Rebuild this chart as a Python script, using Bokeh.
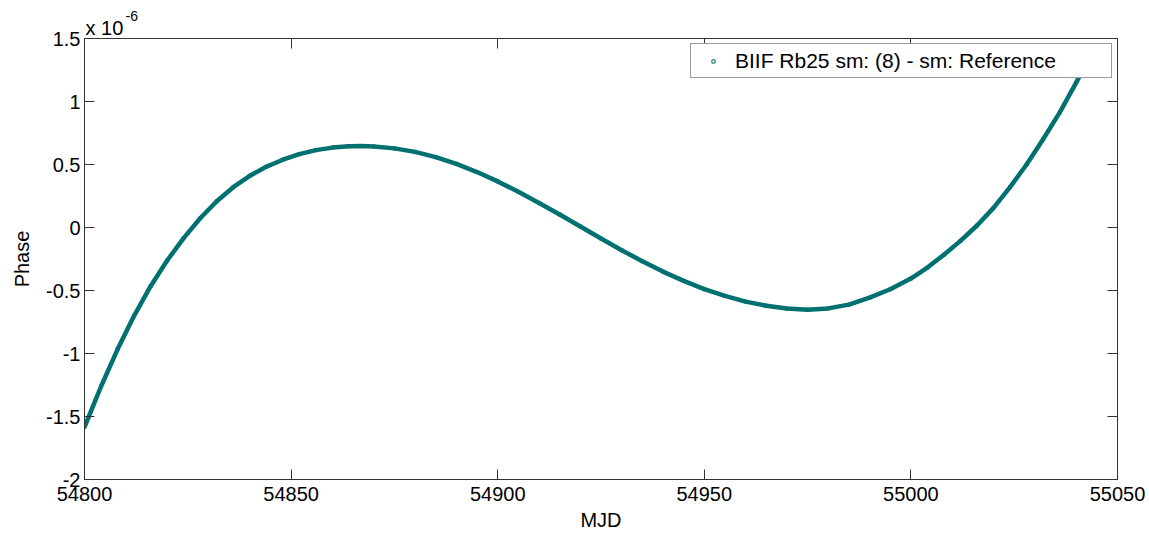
from bokeh.plotting import figure
from bokeh.models import (FixedTicker, CustomJSTickFormatter, LinearAxis, Range1d,
                          Legend, LegendItem, Title)
from bokeh.embed import file_html
from bokeh.resources import INLINE

# ---- data (phase in units of 1e-6) ----
mjd = [54800, 54804, 54808, 54812, 54816, 54820, 54824, 54828, 54832, 54836,
       54840, 54844, 54848, 54852, 54856, 54860, 54864, 54867, 54870, 54875,
       54880, 54885, 54890, 54895, 54900, 54905, 54910, 54915, 54920, 54925,
       54930, 54935, 54940, 54945, 54950, 54955, 54960, 54965, 54970, 54975,
       54980, 54985, 54990, 54995, 55000, 55004, 55008, 55012, 55016, 55020,
       55024, 55028, 55032, 55036, 55040, 55044]
phase_e6 = [-1.584, -1.262, -0.967, -0.701, -0.466, -0.262, -0.084, 0.073, 0.208, 0.320,
            0.410, 0.482, 0.538, 0.582, 0.614, 0.634, 0.644, 0.646, 0.643, 0.628,
            0.600, 0.558, 0.505, 0.440, 0.366, 0.283, 0.195, 0.103, 0.008, -0.087,
            -0.180, -0.268, -0.350, -0.424, -0.489, -0.543, -0.588, -0.621, -0.643, -0.652,
            -0.642, -0.612, -0.557, -0.490, -0.405, -0.318, -0.216, -0.106, 0.016, 0.156,
            0.320, 0.500, 0.700, 0.912, 1.150, 1.400]
x_ticks = [54800, 54850, 54900, 54950, 55000, 55050]
y_ticks = [-2, -1.5, -1, -0.5, 0, 0.5, 1, 1.5]
legend_label = "BIIF Rb25 sm: (8) - sm: Reference"
x_label = "MJD"
y_label = "Phase"
multiplier_base = "x 10"
multiplier_exp = "-6"

FONT = "Liberation Sans"
AX = "#333333"
TEAL = "#007070"

p = figure(width=1149, height=534, output_backend="svg", toolbar_location=None,
           x_range=Range1d(54800, 55050), y_range=Range1d(-2, 1.5),
           min_border_left=84, min_border_right=32, min_border_top=38,
           min_border_bottom=55)
p.title.visible = False
p.grid.visible = False
p.outline_line_color = AX
p.outline_line_width = 1
p.background_fill_color = "white"
p.border_fill_color = "white"

pts_r = p.scatter(mjd, phase_e6, marker="square", size=3, fill_color="white",
                  line_color=TEAL, line_width=1)
line_r = p.line(mjd, phase_e6, line_color=TEAL, line_width=4.5)

fmt = CustomJSTickFormatter(code="return String(tick);")

def style(ax, labels=True):
    ax.axis_line_color = AX
    ax.major_tick_line_color = AX
    ax.major_tick_in = 10
    ax.major_tick_out = 0
    ax.minor_tick_line_color = None
    ax.major_label_text_font = FONT
    ax.major_label_text_font_size = "20px"
    ax.major_label_text_color = "black" if labels else None
    ax.axis_label_text_font = FONT
    ax.axis_label_text_font_size = "20px"
    ax.axis_label_text_font_style = "normal"
    ax.axis_label_text_color = "black"

xa = p.xaxis[0]
xa.ticker = FixedTicker(ticks=x_ticks)
xa.formatter = fmt
xa.axis_label = x_label
style(xa)
xa.major_label_standoff = 7
xa.axis_label_standoff = 5

ya = p.yaxis[0]
ya.ticker = FixedTicker(ticks=y_ticks)
ya.formatter = fmt
ya.axis_label = y_label
style(ya)
ya.major_label_standoff = 4
ya.axis_label_standoff = 10

ra = LinearAxis(ticker=FixedTicker(ticks=y_ticks), formatter=fmt)
style(ra, labels=False)
ra.major_label_text_font_size = "0px"
ra.major_label_standoff = 0
p.add_layout(ra, "right")

ta = LinearAxis(ticker=FixedTicker(ticks=x_ticks), formatter=fmt)
style(ta, labels=False)
ta.major_label_text_font_size = "0px"
ta.major_label_standoff = 0
p.add_layout(ta, "above")

t1 = Title(text=multiplier_base, align="left", offset=1, standoff=0,
           text_font=FONT, text_font_size="20px", text_font_style="normal",
           text_color="black")
p.add_layout(t1, "above")
t2 = Title(text=multiplier_exp, align="left", offset=41, standoff=-12,
           text_font=FONT, text_font_size="14px", text_font_style="normal",
           text_color="black")
p.add_layout(t2, "above")

legend = Legend(items=[LegendItem(label=legend_label, renderers=[pts_r])],
                location="top_right", margin=5, padding=4, spacing=0,
                glyph_width=36, glyph_height=8, label_standoff=4,
                label_width=372, label_height=25,
                label_text_font=FONT, label_text_font_size="21px",
                label_text_color="black",
                border_line_color=AX, border_line_width=1,
                background_fill_color="white", background_fill_alpha=1.0)
p.add_layout(legend, "center")

open("out.html", "w").write(file_html(p, INLINE))
